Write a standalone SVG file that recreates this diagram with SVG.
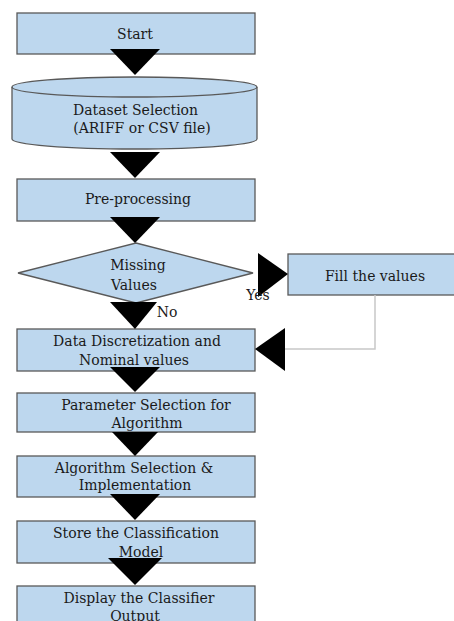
<svg xmlns="http://www.w3.org/2000/svg" width="454" height="621" viewBox="0 0 454 621">
<style>
.box{fill:#bdd7ee;stroke:#595959;stroke-width:1.3}
.t{font-family:"DejaVu Serif","Liberation Serif",serif;font-size:14px;fill:#1a1a1a;text-anchor:middle}
.tri{fill:#000}
.ln{fill:none;stroke:#c8c8c8;stroke-width:1.5}
</style>
<rect width="454" height="621" fill="#fff"/>
<g id="start"><rect class="box" x="17" y="13" width="238" height="41"/><text class="t" x="135" y="39">Start</text></g>
<g id="dataset">
<path class="box" d="M12,87 L12,139 A122.5,10 0 0 0 257,139 L257,87 A122.5,10 0 0 0 12,87 Z"/>
<path d="M12,87 A122.5,10 0 0 0 257,87" fill="none" stroke="#595959" stroke-width="1.3"/>
<text class="t" x="135.5" y="115">Dataset Selection</text>
<text class="t" x="142" y="133">(ARIFF or CSV file)</text>
</g>
<g id="preprocessing"><rect class="box" x="17" y="179" width="238" height="42"/><text class="t" x="138" y="204">Pre-processing</text></g>
<g id="missing"><polygon class="box" points="136,243 253,273 136,303 18,273"/><text class="t" x="138" y="270">Missing</text><text class="t" x="134" y="290">Values</text></g>
<g id="fill"><rect class="box" x="288" y="254" width="175" height="41"/><text class="t" x="375" y="281">Fill the values</text></g>
<g id="discretization"><rect class="box" x="17" y="329" width="238" height="42"/><text class="t" x="137" y="346">Data Discretization and</text><text class="t" x="134" y="365">Nominal values</text></g>
<g id="parameter"><rect class="box" x="17" y="393" width="238" height="39"/><text class="t" x="146" y="410">Parameter Selection for</text><text class="t" x="147" y="428">Algorithm</text></g>
<g id="algorithm"><rect class="box" x="17" y="456" width="238" height="41"/><text class="t" x="134" y="473">Algorithm Selection &amp;</text><text class="t" x="135" y="490">Implementation</text></g>
<g id="store"><rect class="box" x="17" y="521" width="238" height="42"/><text class="t" x="136" y="538">Store the Classification</text><text class="t" x="141" y="557">Model</text></g>
<g id="display"><rect class="box" x="17" y="586" width="238" height="50"/><text class="t" x="139" y="603">Display the Classifier</text><text class="t" x="135" y="621">Output</text></g>
<g id="connectors">
<polyline class="ln" points="375,295 375,349 285,349"/>
<polygon class="tri" points="110,49 160,49 135,75"/>
<polygon class="tri" points="110,152 160,152 135,178"/>
<polygon class="tri" points="110,217 160,217 135,243"/>
<polygon class="tri" points="110,302 157,302 135,329"/>
<polygon class="tri" points="110,367 160,367 135,392"/>
<polygon class="tri" points="112,432 158,432 135,456"/>
<polygon class="tri" points="110,494 160,494 135,520"/>
<polygon class="tri" points="108,558 162,558 135,585"/>
<polygon class="tri" points="258,253 258,297 288,274"/>
<polygon class="tri" points="285,328 285,371 255,349"/>
<text class="t" x="167" y="317">No</text>
<text class="t" x="258" y="300">Yes</text>
</g>
</svg>
